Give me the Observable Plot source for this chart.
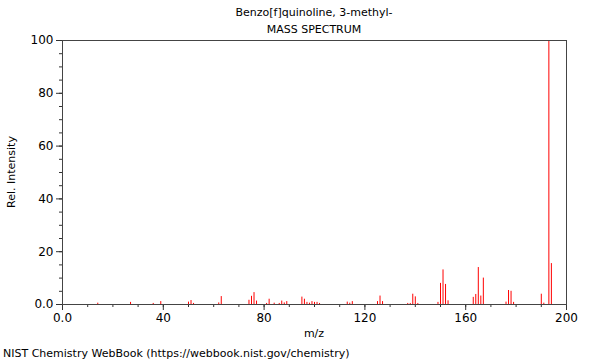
<!DOCTYPE html>
<html>
<head>
<meta charset="utf-8">
<script src="https://cdn.jsdelivr.net/npm/d3@7"></script>
<script src="https://cdn.jsdelivr.net/npm/@observablehq/plot@0.6"></script>
<style>
  body { margin: 0; background: #fff; font-family: "DejaVu Sans", sans-serif; }
  #wrap { position: relative; width: 600px; height: 360px; }
  .lbl { position: absolute; font-size: 11px; color: #000; white-space: nowrap; }
</style>
</head>
<body>
<div id="wrap">
  <div id="chart"></div>
  <div class="lbl" id="t1" style="left:0;width:628px;text-align:center;top:6px;">Benzo[f]quinoline, 3-methyl-</div>
  <div class="lbl" id="t2" style="left:0;width:628px;text-align:center;top:23px;">MASS SPECTRUM</div>
  <div class="lbl" style="left:0;width:628px;text-align:center;top:327px;">m/z</div>
  <div class="lbl" style="left:11px;top:172px;transform:translate(-50%,-50%) rotate(-90deg);">Rel. Intensity</div>
  <div class="lbl" style="left:3px;top:347px;">NIST Chemistry WebBook (https://webbook.nist.gov/chemistry)</div>
</div>
<script>
const mz = [14, 27, 36, 39, 50, 51, 52, 62, 63, 74, 75, 76, 77, 81, 82, 84, 86, 87, 88, 89,
  95, 96, 97, 98, 99, 100, 101, 102, 113, 114, 115, 125, 126, 127, 137, 138, 139, 140, 141,
  149, 150, 151, 152, 153, 163, 164, 165, 166, 167, 176, 177, 178, 179, 190, 191, 193, 194];
const intensity = [0.5, 0.8, 0.4, 1.1, 0.9, 1.5, 0.4, 0.6, 3.0, 1.6, 3.1, 4.5, 1.3, 0.4, 2.0, 0.5, 0.4, 1.3, 0.6, 1.1,
  2.8, 2.0, 0.8, 0.5, 1.1, 0.8, 0.8, 0.4, 0.9, 0.5, 1.1, 1.1, 3.2, 1.1, 0.4, 0.4, 3.9, 2.9, 0.4,
  0.8, 8.0, 13.1, 7.6, 1.4, 2.7, 3.8, 14.0, 3.2, 10.0, 0.9, 5.3, 5.0, 0.8, 3.9, 0.5, 100, 15.5];
const xMajor = [0, 40, 80, 120, 160, 200];
const yMajor = [0, 20, 40, 60, 80, 100];

const peaks = mz.map((m, i) => ({mz: m, v: intensity[i]}));
const fmt = d => d === 0 ? "0.0" : String(d);

const chart = Plot.plot({
  width: 600,
  height: 360,
  marginLeft: 62,
  marginRight: 34,
  marginTop: 40,
  marginBottom: 56,
  style: {fontFamily: "DejaVu Sans, sans-serif", fontSize: "12px", color: "#000", background: "#fff"},
  x: {domain: [0, 200]},
  y: {domain: [0, 100]},
  marks: [
    Plot.ruleX(peaks, {x: "mz", y1: 0, y2: "v", stroke: "#ff0000", strokeWidth: 1}),
    Plot.axisX({ticks: d3.range(0, 201, 10), tickSize: 3, text: null, label: null, stroke: "#333"}),
    Plot.axisX({ticks: xMajor, tickSize: 6, tickFormat: fmt, label: null, stroke: "#333", fill: "#000"}),
    Plot.axisY({ticks: d3.range(0, 101, 5), tickSize: 3, text: null, label: null, stroke: "#333"}),
    Plot.axisY({ticks: yMajor, tickSize: 6, tickFormat: fmt, label: null, stroke: "#333", fill: "#000"}),
    Plot.frame({stroke: "#444"})
  ]
});
document.getElementById("chart").appendChild(chart);
</script>
</body>
</html>
